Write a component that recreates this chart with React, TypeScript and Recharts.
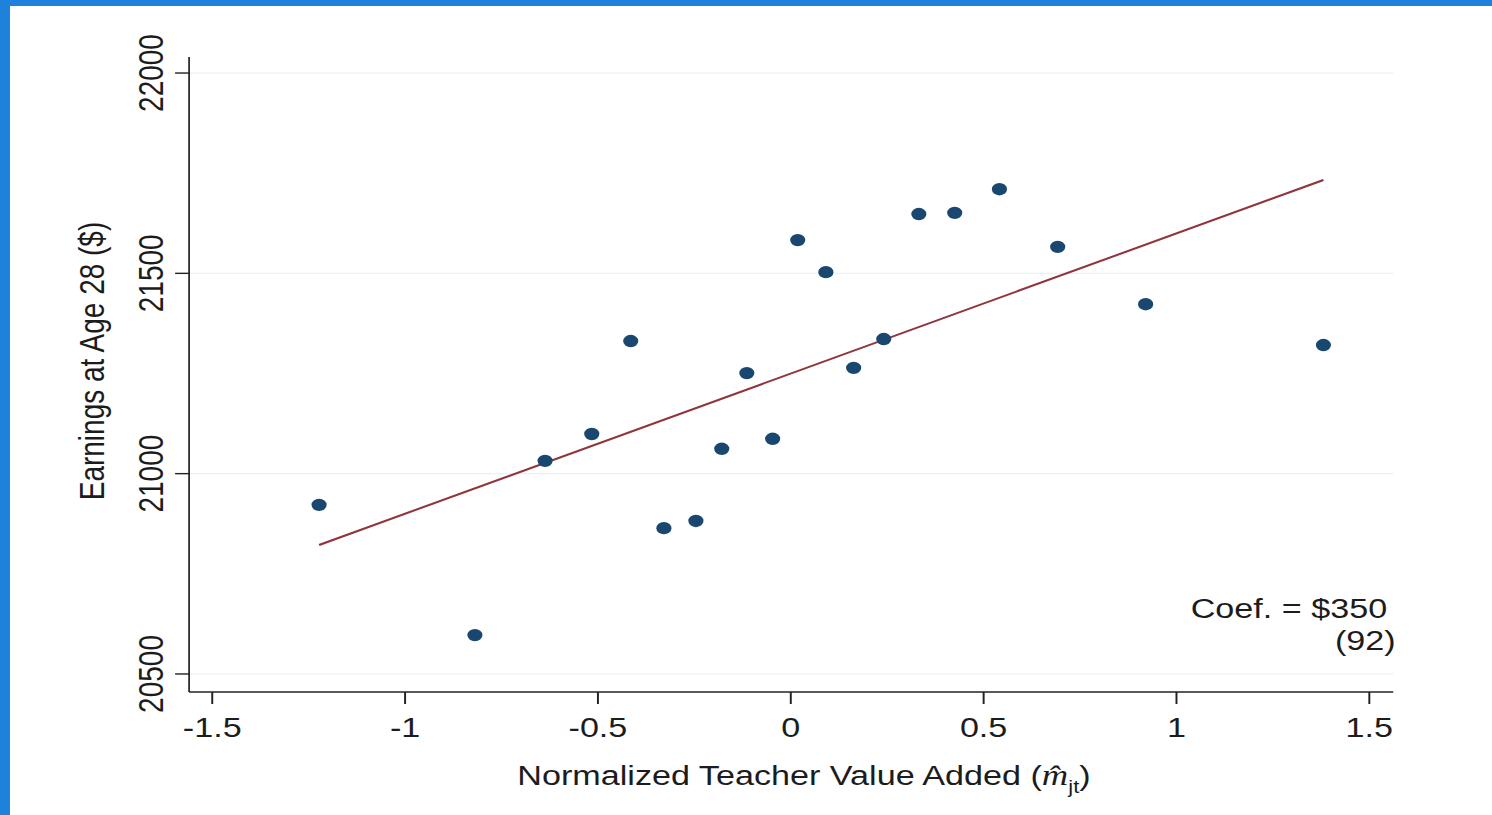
import {
  ScatterChart,
  Scatter,
  XAxis,
  YAxis,
  CartesianGrid,
  Customized,
} from 'recharts';

// binned scatter: teacher value added vs earnings at age 28
const valueAdded = [
  -1.223, -0.819, -0.637, -0.516, -0.415, -0.329, -0.246, -0.179, -0.114, -0.047,
  0.018, 0.091, 0.163, 0.241, 0.332, 0.425, 0.541, 0.692, 0.92, 1.381,
];
const earnings = [
  20922, 20597, 21032, 21099, 21331, 20864, 20882, 21062, 21251, 21087,
  21583, 21503, 21264, 21336, 21648, 21651, 21710, 21566, 21423, 21321,
];
const fitX = [-1.223, 1.381];
const fitY = [20822, 21733];
const xTicks = [-1.5, -1, -0.5, 0, 0.5, 1, 1.5];
const yTicks = [20500, 21000, 21500, 22000];

const points = valueAdded.map((x, i) => ({ x, y: earnings[i] }));
const fitLine = fitX.map((x, i) => ({ x, y: fitY[i] }));

// the reference is stretched sideways, so the whole chart is drawn narrow and scaled
const STRETCH = 1.22;
const W = 1223;
const H = 815;
const FONT = '"Liberation Sans", Arial, sans-serif';
const INK = '#1c1c1c';

const XTick = ({ x, y, payload }: any) => (
  <text x={x} y={y} dy="0.71em" textAnchor="middle" fontSize={28} fontFamily={FONT} fill={INK}>
    {payload.value}
  </text>
);

const YTick = ({ x, y, payload }: any) => (
  <text
    transform={`translate(${x},${y}) rotate(-90)`}
    textAnchor="middle"
    fontSize={28}
    fontFamily={FONT}
    fill={INK}
  >
    {payload.value}
  </text>
);

const Dot = ({ cx, cy }: any) => <circle cx={cx} cy={cy} r={6.2} fill="#1a476f" />;

const Annotations = () => (
  <g fontFamily={FONT} fill={INK} fontSize={28}>
    <text transform="translate(85,361) rotate(-90)" textAnchor="middle">
      Earnings at Age 28 ($)
    </text>
    <text x={659} y={785} textAnchor="middle">
      Normalized Teacher Value Added (
      <tspan fontFamily='"Liberation Serif", serif' fontStyle="italic" fontSize={30}>
        m&#x0302;
      </tspan>
      <tspan fontSize={18} dy={8}>
        jt
      </tspan>
      <tspan dy={-8}>)</tspan>
    </text>
    <text x={1137} y={618} textAnchor="end">
      Coef. = $350
    </text>
    <text x={1144} y={650} textAnchor="end">
      (92)
    </text>
  </g>
);

export default function App() {
  return (
    <div style={{ position: 'absolute', left: 0, top: 0, width: 1492, height: 815, background: '#fff', overflow: 'hidden' }}>
      <div
        style={{
          position: 'absolute',
          left: 0,
          top: 0,
          width: W,
          height: H,
          transform: `scaleX(${STRETCH})`,
          transformOrigin: '0 0',
        }}
      >
        <ScatterChart width={W} height={H} margin={{ top: 57, right: 81, bottom: 0, left: 0 }}>
          <CartesianGrid vertical={false} horizontalValues={yTicks} stroke="#e4edf1" strokeWidth={1} />
          <XAxis
            type="number"
            dataKey="x"
            domain={[-1.56, 1.562]}
            ticks={xTicks}
            height={123}
            tickSize={12}
            tickMargin={13}
            tick={<XTick />}
            stroke="#222"
            strokeWidth={1.6}
            allowDataOverflow
          />
          <YAxis
            type="number"
            dataKey="y"
            domain={[20455, 22040]}
            ticks={yTicks}
            width={155}
            tickSize={11.5}
            tickMargin={10}
            tick={<YTick />}
            stroke="#222"
            strokeWidth={1.4}
            allowDataOverflow
          />
          <Scatter
            data={fitLine}
            line={{ stroke: '#90353b', strokeWidth: 2 }}
            shape={() => null}
            isAnimationActive={false}
          />
          <Scatter data={points} shape={<Dot />} isAnimationActive={false} />
          <Customized component={<Annotations />} />
        </ScatterChart>
      </div>
      <div style={{ position: 'absolute', left: 0, top: 0, width: 1492, height: 6, background: '#1e82dc' }} />
      <div style={{ position: 'absolute', left: 0, top: 0, width: 10, height: 815, background: '#1e82dc' }} />
    </div>
  );
}
